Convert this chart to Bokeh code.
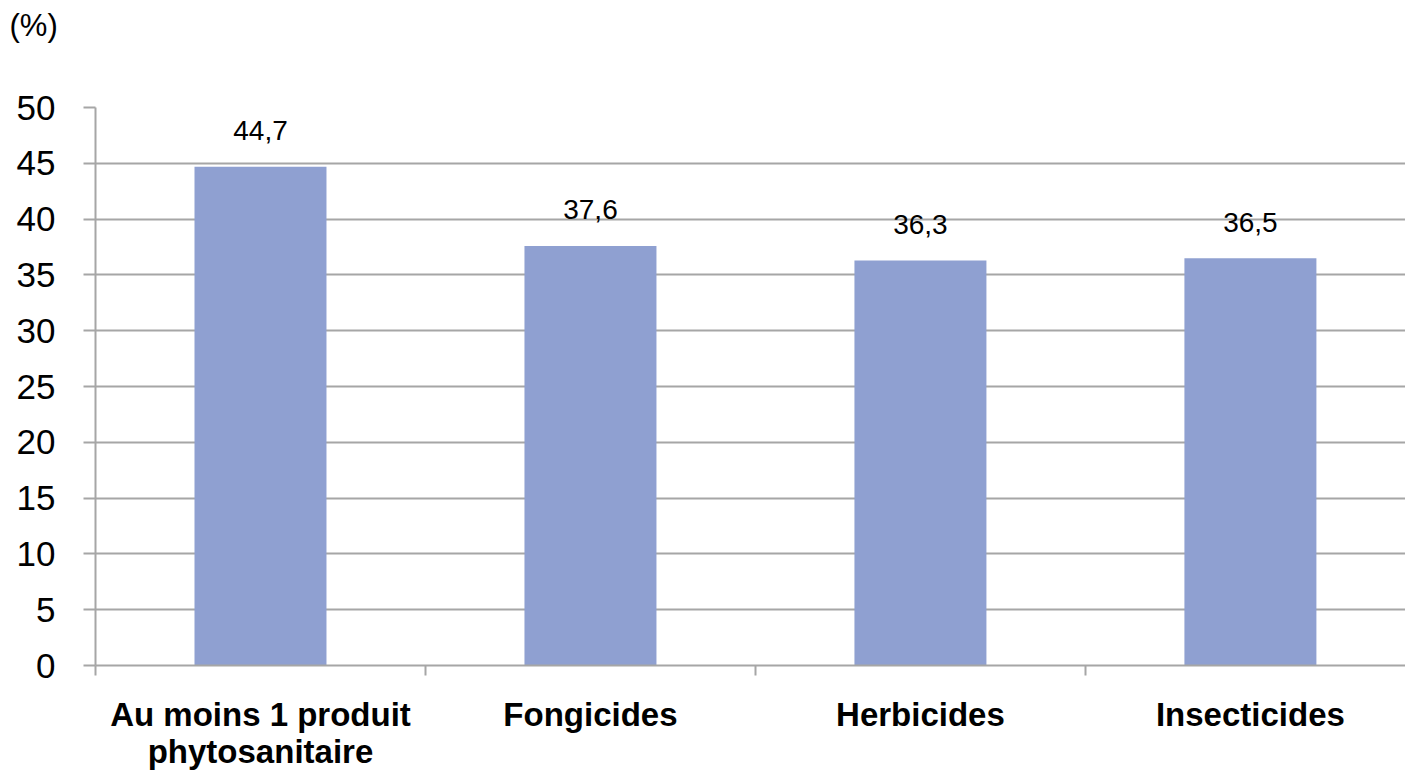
from bokeh.plotting import figure
from bokeh.models import Range1d, FixedTicker, LabelSet, ColumnDataSource, Title
from bokeh.core.properties import value
from bokeh.embed import file_html
from bokeh.resources import INLINE

categories = ["Au moins 1 produit\nphytosanitaire", "Fongicides", "Herbicides", "Insecticides"]
values = [44.7, 37.6, 36.3, 36.5]
value_labels = ["44,7", "37,6", "36,3", "36,5"]
y_ticks = [0, 5, 10, 15, 20, 25, 30, 35, 40, 45, 50]
unit_text = "(%)"

FONT = "Liberation Sans"
GRID = "#A6A6A6"
BAR = "#8FA0D1"

x_pos = [i + 0.5 for i in range(len(categories))]

p = figure(width=1405, height=773, output_backend="svg", toolbar_location=None,
           title=unit_text,
           x_range=Range1d(0, 3.97), y_range=Range1d(0, 50),
           min_border_left=95, min_border_right=0, min_border_top=107, min_border_bottom=108)
p.outline_line_color = None
p.background_fill_color = "white"
p.border_fill_color = "white"

p.title.text_font = FONT
p.title.text_font_size = "31px"
p.title.text_font_style = "normal"
p.title.text_color = "black"
p.title.align = "left"
p.title.offset = -86

# invisible spacer between the unit label and the plot frame
spacer = Title(text=" ", text_font=FONT, text_font_size="43px", text_color="white")
p.add_layout(spacer, "above")

src = ColumnDataSource(dict(x=x_pos, top=values, lab=value_labels))
p.vbar(x="x", top="top", width=0.4, bottom=0, source=src, fill_color=BAR, line_color=None)

labels = LabelSet(x="x", y="top", text="lab", source=src, text_align="center",
                  text_baseline="middle", y_offset=36, text_font=value(FONT),
                  text_font_size=value("28px"), text_color="black")
p.add_layout(labels)

# Y axis
p.yaxis.ticker = FixedTicker(ticks=y_ticks)
p.yaxis.axis_line_color = GRID
p.yaxis.axis_line_width = 2
p.yaxis.major_tick_line_color = GRID
p.yaxis.major_tick_line_width = 2
p.yaxis.major_tick_out = 12
p.yaxis.major_tick_in = 0
p.yaxis.minor_tick_line_color = None
p.yaxis.major_label_standoff = 28
p.yaxis.major_label_text_font = FONT
p.yaxis.major_label_text_font_size = "35px"
p.yaxis.major_label_text_color = "black"

# X axis
p.xaxis.ticker = FixedTicker(ticks=x_pos, minor_ticks=[0, 1, 2, 3])
p.xaxis.major_label_overrides = {x: c for x, c in zip(x_pos, categories)}
p.xaxis.axis_line_color = GRID
p.xaxis.axis_line_width = 2
p.xaxis.major_tick_line_color = None
p.xaxis.major_tick_out = 0
p.xaxis.major_tick_in = 0
p.xaxis.minor_tick_line_color = GRID
p.xaxis.minor_tick_line_width = 2
p.xaxis.minor_tick_out = 10
p.xaxis.minor_tick_in = 0
p.xaxis.major_label_standoff = 20
p.xaxis.major_label_text_font = FONT
p.xaxis.major_label_text_font_style = "bold"
p.xaxis.major_label_text_font_size = "33px"
p.xaxis.major_label_text_line_height = 1.0
p.xaxis.major_label_text_color = "black"

p.xgrid.grid_line_color = None
p.ygrid.ticker = FixedTicker(ticks=y_ticks)
p.ygrid.grid_line_color = GRID
p.ygrid.grid_line_width = 2

open("out.html", "w").write(file_html(p, INLINE))
